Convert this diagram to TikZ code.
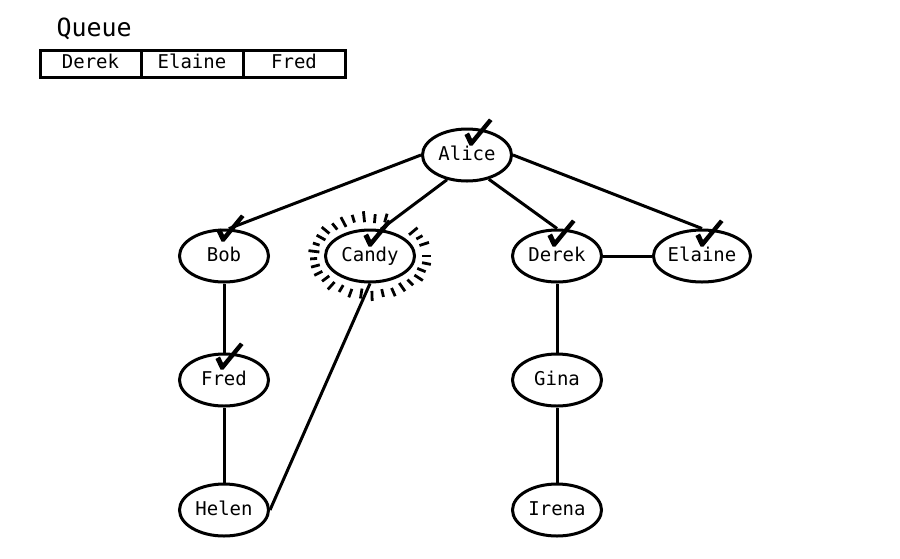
\documentclass[tikz,border=0pt]{standalone}
\usepackage{fontspec}
\setmonofont{DejaVu Sans Mono}
\usetikzlibrary{shapes.geometric,calc}
\begin{document}
\begin{tikzpicture}[x=1pt,y=-1pt,
  person/.style={ellipse,draw,line width=3pt,minimum width=89pt,minimum height=52pt,
    inner sep=0pt,text height=14pt,text depth=4pt,font=\ttfamily\fontsize{19}{19}\selectfont},
  link/.style={line width=3pt},
  qcell/.style={draw,line width=3pt,minimum height=27pt,inner sep=0pt,
    text height=14pt,text depth=4pt,font=\ttfamily\fontsize{19}{19}\selectfont},
  tick/.pic={\fill (-6.5,-9) -- (-2,-11.5) -- (1,-5) -- (18,-25.5) -- (21.5,-23) -- (1.5,1.5) -- (-1.5,1.5) -- cycle;}]
\useasboundingbox (0,0) rectangle (900,558);

% queue
\node[anchor=base west,font=\ttfamily\fontsize{25}{25}\selectfont] (qtitle) at (53,36) {Queue};
\node[qcell,minimum width=101pt] (q1) at (90.5,63.5) {Derek};
\node[qcell,minimum width=102pt] (q2) at (192,63.5) {Elaine};
\node[qcell,minimum width=102pt] (q3) at (294,63.5) {Fred};

% people
\node[person] (alice) at (467,155) {Alice};
\node[person] (bob)   at (224,256) {Bob};
\node[person] (candy) at (370,256) {Candy};
\node[person] (derek) at (557,256) {Derek};
\node[person] (elaine) at (702,256) {Elaine};
\node[person] (fred)  at (224,380) {Fred};
\node[person] (gina)  at (557,380) {Gina};
\node[person] (helen) at (224,510) {Helen};
\node[person] (irena) at (557,510) {Irena};

% friendships
\draw[link] (alice.west) -- (bob.80);
\draw[link] (alice.-129) -- (candy.68);
\draw[link] (alice.-48) -- (derek.north);
\draw[link] (alice.east) -- (elaine.north);
\draw[link] (bob.south) -- (fred.north);
\draw[link] (fred.south) -- (helen.north);
\draw[link] (candy.south) -- (helen.east);
\draw[link] (derek.east) -- (elaine.west);
\draw[link] (derek.south) -- (gina.north);
\draw[link] (gina.south) -- (irena.north);

% visited marks
\path (alice.center) ++(4,-11) pic {tick};
\path (bob.center) ++(-1,-16) pic {tick};
\path (candy.center) ++(0,-11) pic {tick};
\path (derek.center) ++(-3,-11) pic {tick};
\path (elaine.center) ++(0,-11) pic {tick};
\path (fred.center) ++(-2,-12) pic {tick};

% highlight around the current node
\foreach \a/\i/\o in {0/52/61,11/53/62,22/51/60,33/53/63,44/52/60,55/51/61,66/53/62,77/52/60,
  88/53/63,99/51/61,110/53/62,121/52/60,132/53/63,143/51/60,154/53/62,165/52/61,176/53/60,
  187/51/62,198/53/60,209/51/61,220/53/63,231/52/60,242/51/62,253/53/61,264/52/63,
  275/51/60,286/53/62,320/51/62,331/53/60,342/52/62}
  \draw[line width=2.8pt] ($(candy.center)+(\a:{\i} and {\i-18})$) -- ($(candy.center)+(\a:{\o} and {\o-18})$);
\end{tikzpicture}
\end{document}
